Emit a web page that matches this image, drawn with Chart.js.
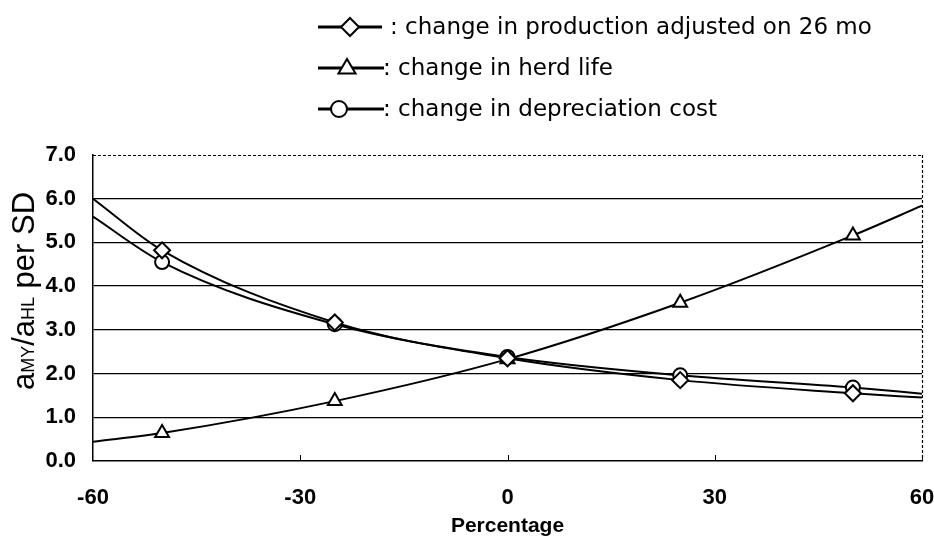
<!DOCTYPE html>
<html>
<head>
<meta charset="utf-8">
<script src="https://cdn.jsdelivr.net/npm/chart.js@4/dist/chart.umd.min.js"></script>
<style>
  html, body { margin: 0; padding: 0; background: #fff; }
  #wrap { width: 934px; height: 536px; position: relative; }
</style>
</head>
<body>
<div id="wrap"><canvas id="chart"></canvas></div>
<script>
// percentage points along the fitted curves (markers only at -50 .. 50)
const percent = [-60, -50, -25, 0, 25, 50, 60];
const production = [6.0, 4.82, 3.17, 2.35, 1.85, 1.55, 1.45];
const herdLife = [0.44, 0.64, 1.37, 2.33, 3.62, 5.16, 5.84];
const depreciation = [5.59, 4.55, 3.13, 2.38, 1.96, 1.68, 1.54];

const xTicks = [-60, -30, 0, 30, 60];
const labels = [
	": change in production adjusted on 26 mo",
	": change in herd life",
	": change in depreciation cost",
];

const FONT = "'Liberation Sans', Arial, sans-serif";

function points(values) {
	return percent.map((x, i) => ({ x: x, y: values[i] }));
}

function series(label, values, style, r) {
	return {
		label: label,
		data: points(values),
		borderColor: "#000",
		borderWidth: 2,
		backgroundColor: "#fff",
		pointStyle: style,
		pointRadius: (ctx) => (ctx.dataIndex === 0 || ctx.dataIndex === percent.length - 1 ? 0 : r),
		pointBorderWidth: 2,
		pointBorderColor: "#000",
		pointBackgroundColor: "#fff",
		cubicInterpolationMode: "monotone",
		fill: false,
	};
}

function marker(ctx, style, x, y, r) {
	ctx.save();
	ctx.fillStyle = "#fff";
	ctx.strokeStyle = "#000";
	ctx.lineWidth = 2;
	ctx.beginPath();
	if (style === "rectRot") {
		ctx.moveTo(x, y - r);
		ctx.lineTo(x + r, y);
		ctx.lineTo(x, y + r);
		ctx.lineTo(x - r, y);
		ctx.closePath();
	} else if (style === "triangle") {
		ctx.moveTo(x, y - r);
		ctx.lineTo(x + r * 0.95, y + r * 0.6);
		ctx.lineTo(x - r * 0.95, y + r * 0.6);
		ctx.closePath();
	} else {
		ctx.arc(x, y, r, 0, Math.PI * 2);
	}
	ctx.fill();
	ctx.stroke();
	ctx.restore();
}

const decorations = {
	id: "decorations",
	afterDraw(chart) {
		const ctx = chart.ctx;
		const area = chart.chartArea;
		const xs = chart.scales.x;

		ctx.save();
		// dashed top and right frame
		ctx.strokeStyle = "#000";
		ctx.lineWidth = 1.2;
		ctx.setLineDash([3, 2]);
		ctx.beginPath();
		ctx.moveTo(area.left, area.top + 0.5);
		ctx.lineTo(area.right, area.top + 0.5);
		ctx.moveTo(area.right + 0.5, area.top);
		ctx.lineTo(area.right + 0.5, area.bottom);
		ctx.stroke();
		ctx.setLineDash([]);

		// inward tick marks on the x axis
		ctx.lineWidth = 1;
		ctx.beginPath();
		for (const t of xTicks.slice(1)) {
			const px = Math.round(xs.getPixelForValue(t)) + 0.5;
			ctx.moveTo(px, area.bottom);
			ctx.lineTo(px, area.bottom - 6);
		}
		ctx.stroke();

		// legend
		const styles = chart.data.datasets.map((d) => d.pointStyle);
		const rows = [27, 68, 109];
		const markX = [350, 347, 339];
		const textX = [390, 383, 383];
		ctx.fillStyle = "#000";
		ctx.font = "23px 'DejaVu Sans', sans-serif";
		ctx.textBaseline = "middle";
		for (let i = 0; i < rows.length; i++) {
			ctx.lineWidth = 2.8;
			ctx.beginPath();
			ctx.moveTo(318, rows[i]);
			ctx.lineTo(i === 0 ? 382 : 384, rows[i]);
			ctx.stroke();
			marker(ctx, styles[i], markX[i], rows[i], i === 2 ? 8 : 9);
			ctx.fillText(chart.data.datasets[i].label, textX[i], rows[i] + 1);
		}

		// y axis title with subscripts
		ctx.translate(23, 291);
		ctx.rotate(-Math.PI / 2);
		ctx.textBaseline = "alphabetic";
		const big = "31px " + FONT;
		const small = "18px " + FONT;
		const parts = [
			["a", big], ["MY", small], ["/", big],
			["a", big], ["HL", small], [" per SD", big],
		];
		let total = 0;
		for (const p of parts) {
			ctx.font = p[1];
			total += ctx.measureText(p[0]).width;
		}
		let cx = -total / 2;
		for (const p of parts) {
			ctx.font = p[1];
			ctx.fillText(p[0], cx, 11);
			cx += ctx.measureText(p[0]).width;
		}
		ctx.restore();
	},
};

new Chart(document.querySelector("#chart"), {
	type: "line",
	data: {
		datasets: [
			series(labels[0], production, "rectRot", 8),
			series(labels[1], herdLife, "triangle", 8),
			series(labels[2], depreciation, "circle", 7),
		],
	},
	options: {
		responsive: true,
		maintainAspectRatio: false,
		animation: false,
		layout: { padding: { top: 155, right: 12, left: 0, bottom: 0 } },
		plugins: {
			legend: { display: false },
			tooltip: { enabled: false },
		},
		scales: {
			x: {
				type: "linear",
				min: -60,
				max: 60,
				afterBuildTicks(scale) {
					scale.ticks = xTicks.map((v) => ({ value: v }));
				},
				afterFit(scale) {
					scale.height = 75;
					scale.paddingLeft = 0;
					scale.paddingRight = 0;
				},
				grid: { drawOnChartArea: false, drawTicks: false },
				border: { color: "#000", width: 1.5 },
				ticks: {
					color: "#000",
					padding: 24,
					maxRotation: 0,
					font: { family: FONT, size: 22, weight: "bold" },
				},
				title: {
					display: true,
					text: "Percentage",
					color: "#000",
					padding: { top: 0, bottom: -3 },
					font: { family: FONT, size: 21, weight: "bold" },
				},
			},
			y: {
				min: 0,
				max: 7,
				afterFit(scale) {
					scale.width = 93;
				},
				ticks: {
					stepSize: 1,
					color: "#000",
					padding: 17,
					callback: (v) => v.toFixed(1),
					font: { family: FONT, size: 22, weight: "bold" },
				},
				grid: {
					drawTicks: false,
					color: (ctx) => (ctx.tick && ctx.tick.value > 0 && ctx.tick.value < 7 ? "#000" : "rgba(0,0,0,0)"),
					lineWidth: 1.3,
				},
				border: { color: "#000", width: 1.5 },
			},
		},
	},
	plugins: [decorations],
});
</script>
</body>
</html>
